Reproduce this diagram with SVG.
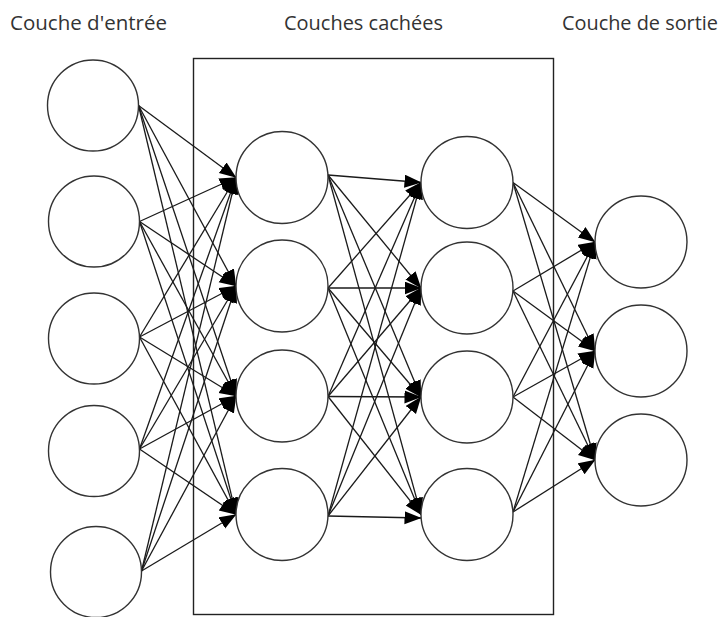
<svg xmlns="http://www.w3.org/2000/svg" width="720" height="617" viewBox="0 0 720 617">
<style>
.n{fill:#fff;stroke:#333;stroke-width:1.4}
.c{stroke:#1a1a1a;stroke-width:1.3;fill:none;marker-end:url(#ah)}
.t{font-family:"Open Sans","DejaVu Sans",sans-serif;font-size:20px;fill:#333}
.box{fill:none;stroke:#222;stroke-width:1.4}
</style>
<defs>
<marker id="ah" markerUnits="userSpaceOnUse" markerWidth="18" markerHeight="14" refX="16.5" refY="6.5" orient="auto">
<path d="M0,0 L17,6.5 L0,13 z" fill="#000"/>
</marker>
</defs>
<rect width="720" height="617" fill="#fff"/>
<g id="labels">
<text class="t" x="10" y="30" textLength="157" lengthAdjust="spacingAndGlyphs">Couche d'entrée</text>
<text class="t" x="284" y="30" textLength="159" lengthAdjust="spacingAndGlyphs">Couches cachées</text>
<text class="t" x="562" y="30" textLength="156" lengthAdjust="spacingAndGlyphs">Couche de sortie</text>
</g>
<rect id="hidden-box" class="box" x="193.5" y="58.5" width="360" height="556"/>
<g id="connectors">
<!-- input -> hidden1 -->
<line class="c" x1="138.5" y1="105.5" x2="236" y2="177.5"/>
<line class="c" x1="138.5" y1="105.5" x2="236" y2="286"/>
<line class="c" x1="138.5" y1="105.5" x2="236" y2="396"/>
<line class="c" x1="138.5" y1="105.5" x2="236" y2="514.5"/>
<line class="c" x1="139.5" y1="221.5" x2="236" y2="177.5"/>
<line class="c" x1="139.5" y1="221.5" x2="236" y2="286"/>
<line class="c" x1="139.5" y1="221.5" x2="236" y2="396"/>
<line class="c" x1="139.5" y1="221.5" x2="236" y2="514.5"/>
<line class="c" x1="139.5" y1="337" x2="236" y2="177.5"/>
<line class="c" x1="139.5" y1="337" x2="236" y2="286"/>
<line class="c" x1="139.5" y1="337" x2="236" y2="396"/>
<line class="c" x1="139.5" y1="337" x2="236" y2="514.5"/>
<line class="c" x1="139.5" y1="449" x2="236" y2="177.5"/>
<line class="c" x1="139.5" y1="449" x2="236" y2="286"/>
<line class="c" x1="139.5" y1="449" x2="236" y2="396"/>
<line class="c" x1="139.5" y1="449" x2="236" y2="514.5"/>
<line class="c" x1="141.5" y1="571" x2="236" y2="177.5"/>
<line class="c" x1="141.5" y1="571" x2="236" y2="286"/>
<line class="c" x1="141.5" y1="571" x2="236" y2="396"/>
<line class="c" x1="141.5" y1="571" x2="236" y2="514.5"/>
<!-- hidden1 -> hidden2 -->
<line class="c" x1="328" y1="175" x2="421" y2="182.5"/>
<line class="c" x1="328" y1="175" x2="421" y2="288"/>
<line class="c" x1="328" y1="175" x2="421" y2="397"/>
<line class="c" x1="328" y1="175" x2="421" y2="514.5"/>
<line class="c" x1="328" y1="288" x2="421" y2="182.5"/>
<line class="c" x1="328" y1="288" x2="421" y2="288"/>
<line class="c" x1="328" y1="288" x2="421" y2="397"/>
<line class="c" x1="328" y1="288" x2="421" y2="514.5"/>
<line class="c" x1="328" y1="396.5" x2="421" y2="182.5"/>
<line class="c" x1="328" y1="396.5" x2="421" y2="288"/>
<line class="c" x1="328" y1="396.5" x2="421" y2="397"/>
<line class="c" x1="328" y1="396.5" x2="421" y2="514.5"/>
<line class="c" x1="328" y1="516" x2="421" y2="182.5"/>
<line class="c" x1="328" y1="516" x2="421" y2="288"/>
<line class="c" x1="328" y1="516" x2="421" y2="397"/>
<line class="c" x1="328" y1="516" x2="421" y2="518"/>
<!-- hidden2 -> output -->
<line class="c" x1="513" y1="182.5" x2="595" y2="242"/>
<line class="c" x1="513" y1="182.5" x2="595" y2="351"/>
<line class="c" x1="513" y1="182.5" x2="595" y2="460"/>
<line class="c" x1="513" y1="291" x2="595" y2="242"/>
<line class="c" x1="513" y1="291" x2="595" y2="351"/>
<line class="c" x1="513" y1="291" x2="595" y2="460"/>
<line class="c" x1="513" y1="397" x2="595" y2="242"/>
<line class="c" x1="513" y1="397" x2="595" y2="351"/>
<line class="c" x1="513" y1="397" x2="595" y2="460"/>
<line class="c" x1="513" y1="512" x2="595" y2="242"/>
<line class="c" x1="513" y1="512" x2="595" y2="351"/>
<line class="c" x1="513" y1="512" x2="595" y2="460"/>
</g>
<g id="in1"><circle class="n" cx="93" cy="105.5" r="45.5"/></g>
<g id="in2"><circle class="n" cx="94" cy="221.5" r="45.5"/></g>
<g id="in3"><circle class="n" cx="94" cy="338.5" r="45.5"/></g>
<g id="in4"><circle class="n" cx="94" cy="451" r="45.5"/></g>
<g id="in5"><circle class="n" cx="96" cy="572" r="45.5"/></g>
<g id="h1a"><circle class="n" cx="282" cy="177.5" r="46"/></g>
<g id="h1b"><circle class="n" cx="282" cy="286" r="46"/></g>
<g id="h1c"><circle class="n" cx="282" cy="396" r="46"/></g>
<g id="h1d"><circle class="n" cx="282" cy="514.5" r="46"/></g>
<g id="h2a"><circle class="n" cx="467" cy="182.5" r="46"/></g>
<g id="h2b"><circle class="n" cx="467" cy="288" r="46"/></g>
<g id="h2c"><circle class="n" cx="467" cy="397" r="46"/></g>
<g id="h2d"><circle class="n" cx="467" cy="514.5" r="46"/></g>
<g id="out1"><circle class="n" cx="641" cy="242" r="46"/></g>
<g id="out2"><circle class="n" cx="641" cy="351" r="46"/></g>
<g id="out3"><circle class="n" cx="641" cy="460" r="46"/></g>
</svg>
